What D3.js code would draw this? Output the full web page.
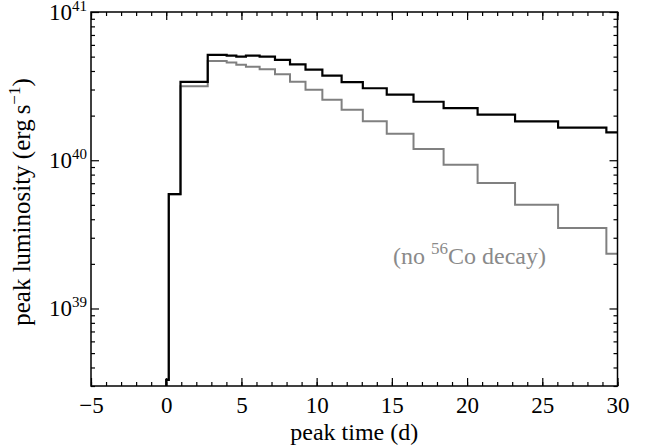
<!DOCTYPE html>
<html>
<head>
<meta charset="utf-8">
<script src="https://cdn.jsdelivr.net/npm/d3@7"></script>
<style>
  body { margin: 0; background: #fff; }
  svg { font-family: 'Liberation Serif', 'DejaVu Serif', serif; }
</style>
</head>
<body>
<svg id="chart" width="645" height="446"></svg>
<script>
// bin edges in days (last edge is the right end of the plot)
const binEdges = [-5, 0, 0.17, 0.95, 2.76, 4.02, 4.66, 5.3, 6.21, 7.23, 8.23, 9.26, 10.38, 11.66, 13.07, 14.66, 16.44, 18.44, 20.7, 23.19, 26.05, 29.26, 30]
// peak luminosity per bin, erg/s
const withCo = [1e37, 3.3e38, 5.9e39, 3.38e40, 5.13e40, 5.08e40, 5.0e40, 5.08e40, 5.0e40, 4.75e40, 4.43e40, 4.08e40, 3.72e40, 3.36e40, 3.06e40, 2.77e40, 2.48e40, 2.25e40, 2.03e40, 1.83e40, 1.66e40, 1.54e40]
const noCo = [1e37, 3.3e38, 5.9e39, 3.15e40, 4.68e40, 4.56e40, 4.40e40, 4.28e40, 4.11e40, 3.81e40, 3.38e40, 2.99e40, 2.56e40, 2.19e40, 1.83e40, 1.51e40, 1.19e40, 9.33e39, 7.02e39, 5.01e39, 3.49e39, 2.34e39]

const xTicks = [-5, 0, 5, 10, 15, 20, 25, 30]
const xMinor = d3.range(-5, 31, 1)
const yExponents = [39, 40, 41]

const margin = { left: 91, right: 617.5, top: 12, bottom: 386 }

const x = d3.scaleLinear().domain([-5, 30]).range([margin.left, margin.right])
const y = d3.scaleLog().domain([3e38, 1e41]).range([margin.bottom, margin.top])

const svg = d3.select('#chart')

svg.append('defs').append('clipPath').attr('id', 'plot-clip')
  .append('rect')
  .attr('x', margin.left).attr('y', margin.top)
  .attr('width', margin.right - margin.left)
  .attr('height', margin.bottom - margin.top)

const stepPoints = (values) => {
  const pts = values.map((v, i) => [binEdges[i], v])
  pts.push([binEdges[binEdges.length - 1], values[values.length - 1]])
  return pts
}

const stepLine = d3.line()
  .x(d => x(d[0]))
  .y(d => y(d[1]))
  .curve(d3.curveStepAfter)

const lines = svg.append('g').attr('clip-path', 'url(#plot-clip)')

lines.append('path')
  .attr('d', stepLine(stepPoints(noCo)))
  .attr('fill', 'none')
  .attr('stroke', '#808080')
  .attr('stroke-width', 2)

lines.append('path')
  .attr('d', stepLine(stepPoints(withCo)))
  .attr('fill', 'none')
  .attr('stroke', '#000')
  .attr('stroke-width', 2.2)

// ticks, all pointing inwards on every side
const yMinor = []
for (let e = 38; e <= 40; e++) {
  for (let m = 2; m <= 9; m++) {
    const v = m * Math.pow(10, e)
    if (v >= 3e38 && v <= 1e41) yMinor.push(v)
  }
}
const yMajor = yExponents.map(e => Math.pow(10, e))

const styleAxis = (g) => {
  g.select('.domain').remove()
  g.selectAll('line').attr('stroke', '#000').attr('stroke-width', 1.2)
}

svg.append('g').attr('transform', `translate(0,${margin.bottom})`)
  .call(d3.axisBottom(x).tickValues(xMinor).tickSize(-4).tickFormat(''))
  .call(styleAxis)
svg.append('g').attr('transform', `translate(0,${margin.bottom})`)
  .call(d3.axisBottom(x).tickValues(xTicks).tickSize(-8).tickPadding(11))
  .call(styleAxis)
  .call(g => g.selectAll('text')
    .attr('font-size', 23)
    .attr('font-family', "'Liberation Serif', serif")
    .attr('fill', '#000'))

svg.append('g').attr('transform', `translate(0,${margin.top})`)
  .call(d3.axisTop(x).tickValues(xMinor).tickSize(-4).tickFormat(''))
  .call(styleAxis)
svg.append('g').attr('transform', `translate(0,${margin.top})`)
  .call(d3.axisTop(x).tickValues(xTicks).tickSize(-8).tickFormat(''))
  .call(styleAxis)

svg.append('g').attr('transform', `translate(${margin.left},0)`)
  .call(d3.axisLeft(y).tickValues(yMinor).tickSize(-4).tickFormat(''))
  .call(styleAxis)
svg.append('g').attr('transform', `translate(${margin.left},0)`)
  .call(d3.axisLeft(y).tickValues(yMajor).tickSize(-8).tickFormat(''))
  .call(styleAxis)
svg.append('g').attr('transform', `translate(${margin.right},0)`)
  .call(d3.axisRight(y).tickValues(yMinor).tickSize(-4).tickFormat(''))
  .call(styleAxis)
svg.append('g').attr('transform', `translate(${margin.right},0)`)
  .call(d3.axisRight(y).tickValues(yMajor).tickSize(-8).tickFormat(''))
  .call(styleAxis)

// y tick labels 10^n
const yLabels = svg.append('g').selectAll('text')
  .data(yExponents)
  .join('text')
  .attr('x', margin.left - 4)
  .attr('y', d => y(Math.pow(10, d)) + 7.5)
  .attr('text-anchor', 'end')
  .attr('font-size', 23)
yLabels.append('tspan').text('10')
yLabels.append('tspan').attr('dy', -9).attr('font-size', 15).text(d => d)

// frame
svg.append('rect')
  .attr('x', margin.left).attr('y', margin.top)
  .attr('width', margin.right - margin.left)
  .attr('height', margin.bottom - margin.top)
  .attr('fill', 'none')
  .attr('stroke', '#000')
  .attr('stroke-width', 1.5)

// axis titles
svg.append('text')
  .attr('x', (margin.left + margin.right) / 2)
  .attr('y', 440)
  .attr('text-anchor', 'middle')
  .attr('font-size', 24)
  .text('peak time (d)')

const yTitle = svg.append('text')
  .attr('transform', 'translate(30,202) rotate(-90)')
  .attr('text-anchor', 'middle')
  .attr('font-size', 25)
yTitle.append('tspan').text('peak luminosity (erg\u2009s')
yTitle.append('tspan').attr('dy', -10).attr('font-size', 17).text('\u22121')
yTitle.append('tspan').attr('dy', 10).text(')')

// annotation for the grey curve
const note = svg.append('text')
  .attr('x', 393)
  .attr('y', 264)
  .attr('font-size', 24)
  .attr('fill', '#8a8a8a')
note.append('tspan').text('(no ')
note.append('tspan').attr('dy', -10).attr('font-size', 17).text('56')
note.append('tspan').attr('dy', 10).text('Co decay)')
</script>
</body>
</html>
